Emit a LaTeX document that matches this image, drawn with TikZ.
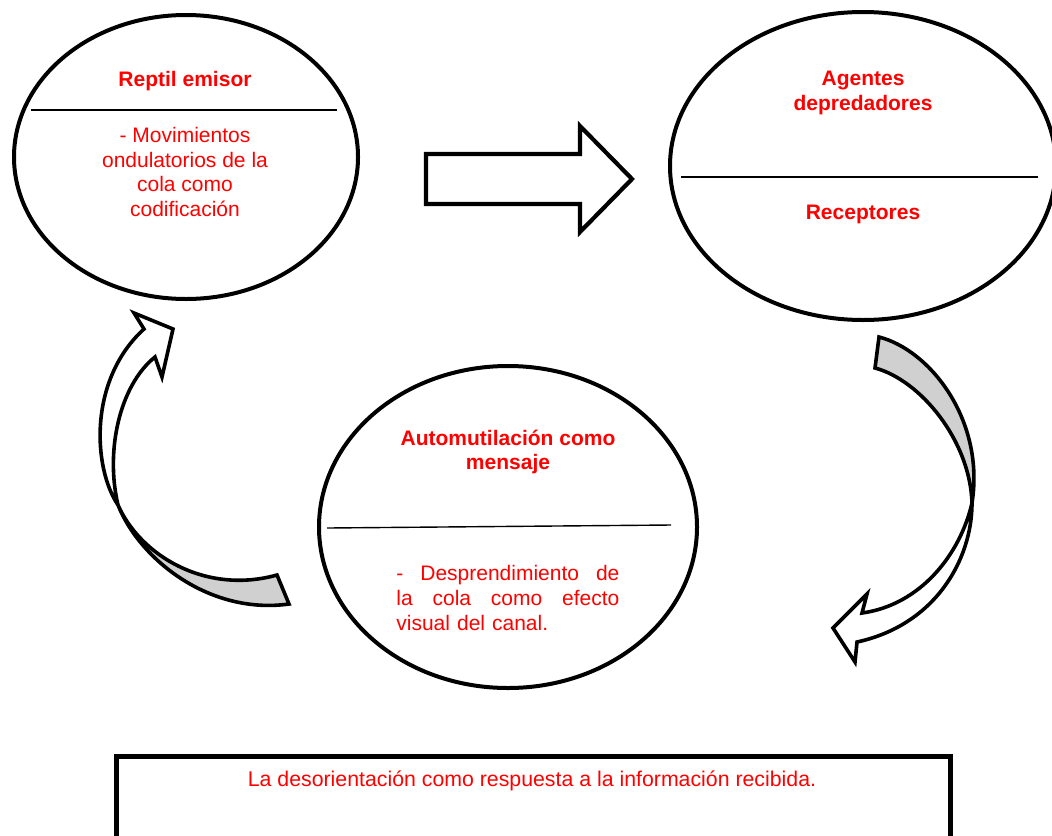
\documentclass[tikz,border=0pt]{standalone}
\usepackage{fontspec}
\setmainfont{Liberation Sans}
\usepackage{tikz}
\usetikzlibrary{shapes.geometric}
\definecolor{textred}{RGB}{255,0,0}
\definecolor{bandgray}{RGB}{208,208,208}

\begin{document}
\begin{tikzpicture}[
    x=0.5pt, y=-0.5pt,
    bubble/.style={ellipse, draw, line width=2pt, inner sep=0pt},
    divider/.style={line width=0.7pt},
    title/.style={font=\fontsize{10.5}{12.35}\selectfont\bfseries, text=textred, align=center, inner sep=0pt},
    body/.style={font=\fontsize{10.5}{12.35}\selectfont, text=textred, align=center, inner sep=0pt},
    bigarrow/.style={draw, line width=2.1pt, fill=white, line join=miter, miter limit=20},
    band/.style={draw, line width=1.8pt, line join=miter, miter limit=20},
    panel/.style={draw, line width=2.5pt},
]
\useasboundingbox (0,0) rectangle (1052,835);
\clip (0,0) rectangle (1052,835);

% the three ellipses
\node[bubble, minimum width=172pt, minimum height=142pt] (emisor) at (186,157) {};
\node[bubble, minimum width=193pt, minimum height=154pt] (receptor) at (863,166) {};
\node[bubble, minimum width=189pt, minimum height=161pt] (mensaje) at (508,527) {};

\draw[divider] (31,110) -- (337,110);
\draw[divider] (681,177) -- (1038,177);
\draw[divider] (327,528) -- (671,525);

% texts
\node[title] (emisortitle) at (185,81) {Reptil emisor};
\node[body] (emisortext) at (185,172) {- Movimientos\\ondulatorios de la\\cola como\\codificación};
\node[title] (receptortitle) at (863,93) {Agentes\\depredadores};
\node[title] (receptortext) at (863,214) {Receptores};
\node[title] (mensajetitle) at (508,452) {Automutilación como\\mensaje};
\node[body, text width=111.5pt, align=left, anchor=west] (mensajetext) at (396,598)
    {-\hfill Desprendimiento\hfill de\\la\hfill cola\hfill como\hfill efecto\\visual del canal.};

% block arrow between the top ellipses
\draw[bigarrow] (426,154) -- (580,154) -- (580,126) -- (632,179) -- (580,232) -- (580,204) -- (426,204) -- cycle;

% curved arrow on the right
\coordinate (rx) at (972,503);
\fill[bandgray] (879,337) .. controls (930,350) and (985,420) .. (rx)
    .. controls (970,440) and (920,380) .. (875,368) -- cycle;
\fill[white] (rx) .. controls (972,560) and (935,625) .. (857,642) -- (855,662) -- (833,628)
    -- (867,594) -- (862,613) .. controls (920,605) and (960,555) .. (rx);
\draw[band] (879,337) .. controls (930,350) and (985,420) .. (rx)
    .. controls (960,555) and (920,605) .. (862,613) -- (867,594) -- (833,628) -- (855,662)
    -- (857,642) .. controls (935,625) and (972,560) .. (rx)
    .. controls (970,440) and (920,380) .. (875,368) -- cycle;

% curved arrow on the left
\coordinate (lx) at (118,505);
\fill[white] (144,329) -- (134,313) -- (173,329) -- (162,377) -- (155,357)
    .. controls (120,385) and (105,450) .. (lx) .. controls (93,468) and (88,380) .. (144,329);
\fill[bandgray] (lx) .. controls (140,560) and (210,615) .. (289,604) -- (277,575)
    .. controls (205,595) and (140,555) .. (lx);
\draw[band] (144,329) -- (134,313) -- (173,329) -- (162,377) -- (155,357)
    .. controls (120,385) and (105,450) .. (lx) .. controls (140,555) and (205,595) .. (277,575)
    -- (289,604) .. controls (210,615) and (140,560) .. (lx)
    .. controls (93,468) and (88,380) .. cycle;

% bottom box
\draw[panel] (116,756) rectangle (950,900);
\node[body, font=\fontsize{10.65}{12.5}\selectfont] (respuesta) at (532,781) {La desorientación como respuesta a la información recibida.};

\end{tikzpicture}
\end{document}
